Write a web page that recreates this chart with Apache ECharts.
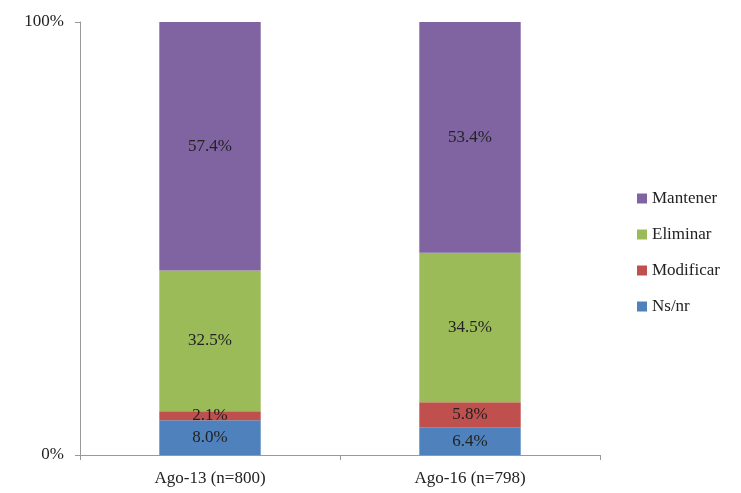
<!DOCTYPE html>
<html><head><meta charset="utf-8">
<script src="https://cdn.jsdelivr.net/npm/echarts@6/dist/echarts.min.js"></script>
<style>html,body{margin:0;padding:0;background:#fff}#c{width:741px;height:493px}</style>
</head><body><div id="c"></div>
<script>
const categories = ['Ago-13 (n=800)', 'Ago-16 (n=798)'];
const nsnr = [8.0, 6.4];
const modificar = [2.1, 5.8];
const eliminar = [32.5, 34.5];
const mantener = [57.4, 53.4];
const yTicks = [0, 100];

const font = '"Liberation Serif", "DejaVu Serif", serif';
const chart = echarts.init(document.getElementById('c'));
function mk(name, data, color) {
  return {
    name, type: 'bar', stack: 'a', data, barWidth: '39%',
    itemStyle: { color },
    label: { show: true, position: 'inside', formatter: p => p.value.toFixed(1) + '%',
      color: '#222', fontFamily: font, fontSize: 17 }
  };
}
chart.setOption({
  animation: false,
  grid: { left: 80, right: 141, top: 22, bottom: 38 },
  xAxis: {
    type: 'category', data: categories,
    axisLine: { lineStyle: { color: '#999' } },
    axisTick: { show: true, alignWithLabel: false, length: 5, lineStyle: { color: '#999' } },
    axisLabel: { color: '#222', fontFamily: font, fontSize: 17, margin: 15 }
  },
  yAxis: {
    type: 'value', min: yTicks[0], max: yTicks[1], interval: 100,
    axisLine: { show: true, lineStyle: { color: '#999' } },
    axisTick: { show: true, length: 5, lineStyle: { color: '#999' } },
    splitLine: { show: false },
    axisLabel: { formatter: '{value}%', color: '#222', fontFamily: font, fontSize: 17, margin: 16 }
  },
  legend: {
    orient: 'vertical', left: 632, top: 185, itemGap: 19,
    itemWidth: 10, itemHeight: 10, icon: 'rect',
    data: ['Mantener', 'Eliminar', 'Modificar', 'Ns/nr'],
    textStyle: { color: '#222', fontFamily: font, fontSize: 17 }
  },
  series: [
    mk('Ns/nr', nsnr, '#4F81BD'),
    mk('Modificar', modificar, '#C0504D'),
    mk('Eliminar', eliminar, '#9BBB59'),
    mk('Mantener', mantener, '#8064A2')
  ]
});
</script></body></html>
